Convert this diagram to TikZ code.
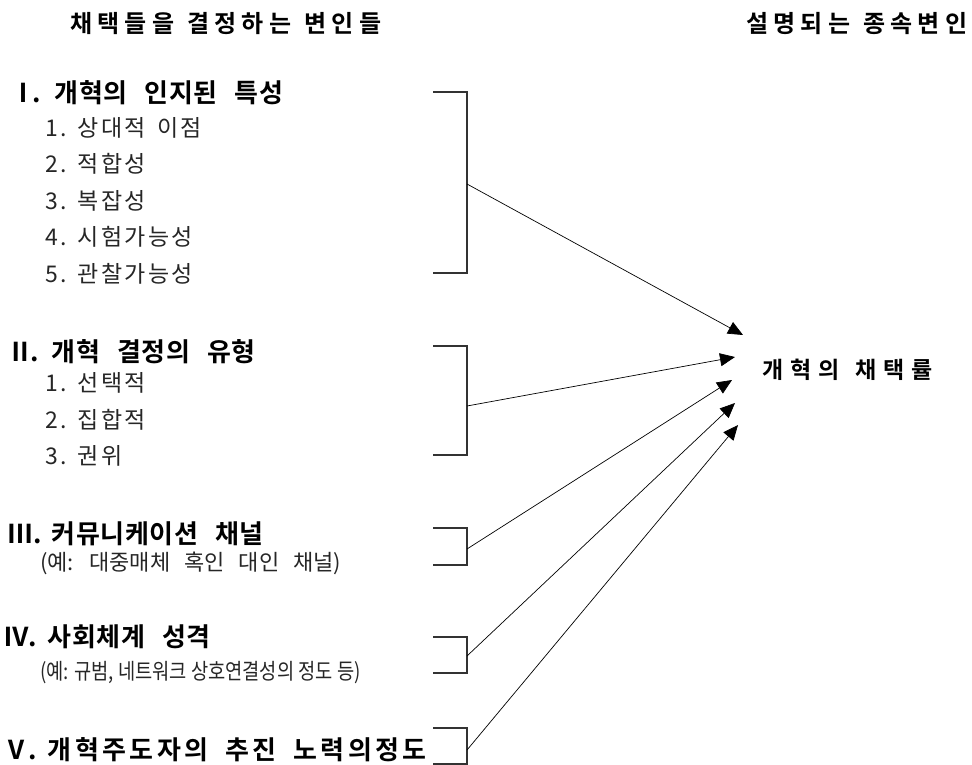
\documentclass[tikz,border=0pt]{standalone}
\usepackage{fontspec}
\usepackage{graphicx}
\usetikzlibrary{arrows.meta}
\newfontfamily\krtitle[LetterSpace=22]{Noto Sans CJK KR Bold}
\newfontfamily\krrate[LetterSpace=30]{Noto Sans CJK KR Bold}
\newfontfamily\krhead[LetterSpace=2]{Noto Sans CJK KR Bold}
\newfontfamily\krheadw[LetterSpace=13]{Noto Sans CJK KR Bold}
\newfontfamily\kritem[LetterSpace=10]{Noto Sans CJK KR}
\newfontfamily\krex{Noto Sans CJK KR}
% font set-ups, each with its own word gap
\newcommand\ftitle{\krtitle\fontsize{24pt}{28pt}\selectfont\setlength\spaceskip{13pt}}
\newcommand\frate{\krrate\fontsize{23pt}{27pt}\selectfont\setlength\spaceskip{16pt}}
\newcommand\fhead{\krhead\fontsize{26pt}{30pt}\selectfont\setlength\spaceskip{17pt}}
\newcommand\fheadw{\krheadw\fontsize{26pt}{30pt}\selectfont\setlength\spaceskip{17pt}}
\newcommand\fitem{\kritem\fontsize{23pt}{27pt}\selectfont\setlength\spaceskip{11pt}}
\newcommand\fex{\krex\fontsize{22pt}{26pt}\selectfont\setlength\spaceskip{14pt}}
\newcommand\fexn{\krex\fontsize{22pt}{26pt}\selectfont}
% numeral column of the headings and item lists
\newcommand\numhead[2][-2pt]{\makebox[42pt][l]{\hspace{-3pt}#2\hspace{#1}.}}
\newcommand\numitem[1]{\makebox[33pt][l]{#1}}
\tikzset{
  txt/.style={anchor=west, inner sep=0pt, outer sep=0pt},
  titletxt/.style={txt, font=\ftitle},
  ratetxt/.style={txt, font=\frate},
  headtxt/.style={txt, font=\fhead},
  headwide/.style={txt, font=\fheadw},
  itemtxt/.style={txt, text=black!85, font=\fitem},
  extxt/.style={txt, text=black!85, font=\fex},
  exntxt/.style={txt, text=black!85, font=\fexn},
  bracket/.style={draw=black!80, line width=1.2pt},
  link/.style={draw=black, line width=0.7pt, -{Triangle[length=15pt, width=13pt]}}
}
\begin{document}
\begin{tikzpicture}[x=1pt, y=-1pt]
\useasboundingbox (0,0) rectangle (972,765);

% column titles
\node[titletxt] (tl) at (70,24) {채택들을 결정하는 변인들};
\node[titletxt] (tr) at (746,24) {설명되는 종속변인};

% I
\node[headtxt] (h1) at (13,93) {\numhead[-4pt]{Ⅰ}개혁의 인지된 특성};
\node[itemtxt] (i11) at (45,128) {\numitem{1.}상대적 이점};
\node[itemtxt] (i12) at (45,164) {\numitem{2.}적합성};
\node[itemtxt] (i13) at (45,201) {\numitem{3.}복잡성};
\node[itemtxt] (i14) at (45,237) {\numitem{4.}시험가능성};
\node[itemtxt] (i15) at (45,274) {\numitem{5.}관찰가능성};

% II
\node[headtxt] (h2) at (10,352) {\numhead[-3pt]{Ⅱ}개혁 결정의 유형};
\node[itemtxt] (i21) at (45,383) {\numitem{1.}선택적};
\node[itemtxt] (i22) at (45,420) {\numitem{2.}집합적};
\node[itemtxt] (i23) at (45,456) {\numitem{3.}권위};

% III
\node[headtxt] (h3) at (10,534) {\numhead[0pt]{Ⅲ}커뮤니케이션 채널};
\node[extxt] (e3) at (40,563) {(예: 대중매체 혹인 대인 채널)};

% IV
\node[headtxt] (h4) at (6,637) {\numhead[-1pt]{Ⅳ}사회체계 성격};
\node[exntxt] (e4) at (40,673) {\scalebox{0.85}[1]{(예: 규범, 네트워크 상호연결성의 정도 등)}};

% V
\node[headwide] (h5) at (6,750) {\numhead[-1pt]{Ⅴ}개혁주도자의 추진 노력의정도};

% dependent variable
\node[ratetxt] (rate) at (762,370) {개혁의 채택률};

% brackets and their outlets
\draw[bracket] (433,92) -- (467,92) -- (467,273) -- (433,273);
\draw[bracket] (433,346) -- (467,346) -- (467,455) -- (433,455);
\draw[bracket] (433,528) -- (467,528) -- (467,565) -- (433,565);
\draw[bracket] (433,637) -- (467,637) -- (467,673) -- (433,673);
\draw[bracket] (433,728) -- (467,728) -- (467,764) -- (433,764);
\coordinate (o1) at (467,184);
\coordinate (o2) at (467,406);
\coordinate (o3) at (467,549);
\coordinate (o4) at (467,656);
\coordinate (o5) at (467,750);

% arrow ends next to the dependent variable
\coordinate (t1) at (743,335);
\coordinate (t2) at (735,357);
\coordinate (t3) at (732,380);
\coordinate (t4) at (735,403);
\coordinate (t5) at (738,425);

\draw[link] (o1) -- (t1);
\draw[link] (o2) -- (t2);
\draw[link] (o3) -- (t3);
\draw[link] (o4) -- (t4);
\draw[link] (o5) -- (t5);
\end{tikzpicture}
\end{document}
